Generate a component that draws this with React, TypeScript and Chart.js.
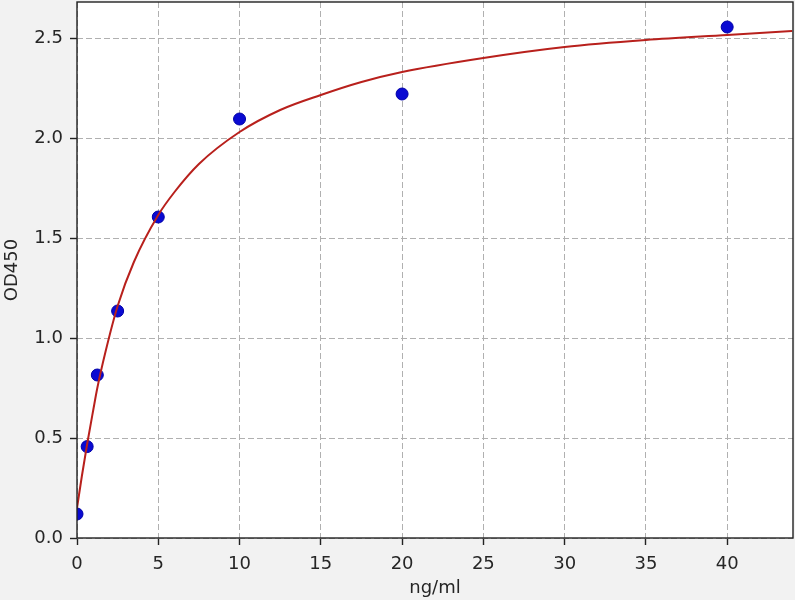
import React, { useEffect, useRef } from "react";
import { Chart, registerables } from "chart.js";

Chart.register(...registerables);

// Measured standards (ng/ml, OD450)
const concentrations = [0, 0.625, 1.25, 2.5, 5, 10, 20, 40];
const odValues = [0.12, 0.457, 0.815, 1.135, 1.605, 2.095, 2.22, 2.555];

// Fitted curve
const curveX = [0, 0.3, 0.625, 1, 1.25, 1.75, 2.5, 3.5, 5, 6, 7.5, 10, 12.5, 15, 17.5, 20, 25, 30, 35, 40, 44];
const curveY = [0.15, 0.31, 0.47, 0.64, 0.75, 0.93, 1.16, 1.38, 1.615, 1.73, 1.87, 2.03, 2.14, 2.215, 2.28, 2.33, 2.4, 2.455, 2.49, 2.515, 2.535];

const xTicks = [0, 5, 10, 15, 20, 25, 30, 35, 40];
const yTicks = [0, 0.5, 1.0, 1.5, 2.0, 2.5];
const xRange = [0, 44.05];
const yRange = [0, 2.68];
const xTitle = "ng/ml";
const yTitle = "OD450";

const FONT = "'DejaVu Sans', sans-serif";

export default function App() {
  const ref = useRef<HTMLCanvasElement | null>(null);

  useEffect(() => {
    if (!ref.current) return;
    const bgPlugin = {
      id: "bg",
      beforeDraw(chart: any) {
        const { ctx, chartArea: a, width, height } = chart;
        ctx.save();
        ctx.fillStyle = "#f2f2f2";
        ctx.fillRect(0, 0, width, height);
        ctx.fillStyle = "#ffffff";
        ctx.fillRect(795, 0, width - 795, height);
        ctx.fillRect(a.left, a.top, a.right - a.left, a.bottom - a.top);
        ctx.restore();
      },
      afterDraw(chart: any) {
        const { ctx, chartArea: a } = chart;
        ctx.save();
        ctx.strokeStyle = "#222222";
        ctx.lineWidth = 1.4;
        ctx.strokeRect(a.left, a.top, a.right - a.left, a.bottom - a.top);
        ctx.restore();
      },
    };

    const zeroPad = (s: any) => {
      s.paddingTop = 0;
      s.paddingBottom = 0;
      s.paddingLeft = 0;
      s.paddingRight = 0;
    };

    const chart = new Chart(ref.current, {
      type: "scatter",
      data: {
        datasets: [
          {
            type: "line",
            label: "fit",
            data: curveX.map((x, i) => ({ x, y: curveY[i] })),
            borderColor: "#b8201c",
            borderWidth: 2,
            pointRadius: 0,
            fill: false,
            cubicInterpolationMode: "monotone",
            order: 0,
          } as any,
          {
            label: "std",
            data: concentrations.map((x, i) => ({ x, y: odValues[i] })),
            backgroundColor: "#0a0ad2",
            borderColor: "#0000a8",
            borderWidth: 1,
            pointRadius: 6,
            order: 1,
            clip: 0,
          } as any,
        ],
      },
      options: {
        responsive: false,
        animation: false,
        devicePixelRatio: 1,
        layout: { autoPadding: false, padding: { top: 2, right: 7, left: 0, bottom: 0 } },
        plugins: { legend: { display: false }, tooltip: { enabled: false } },
        scales: {
          x: {
            type: "linear",
            min: xRange[0],
            max: xRange[1],
            afterBuildTicks: (s: any) => {
              s.ticks = xTicks.map((v) => ({ value: v }));
            },
            afterFit: (s: any) => {
              s.height = 62;
              zeroPad(s);
            },
            ticks: {
              font: { family: FONT, size: 18 },
              color: "#262626",
              padding: 9,
              maxRotation: 0,
              callback: (v: any) => String(v),
            },
            grid: {
              color: "#b0b0b0",
              lineWidth: 1,
              drawTicks: true,
              tickLength: 7,
              tickColor: "#222222",
              tickWidth: 1.4,
            },
            border: { display: false, dash: [6, 3] },
            title: {
              display: true,
              text: xTitle,
              font: { family: FONT, size: 18 },
              color: "#262626",
              padding: { top: 0, bottom: 1 },
            },
          },
          y: {
            type: "linear",
            min: yRange[0],
            max: yRange[1],
            afterBuildTicks: (s: any) => {
              s.ticks = yTicks.map((v) => ({ value: v }));
            },
            afterFit: (s: any) => {
              s.width = 77;
              zeroPad(s);
            },
            ticks: {
              font: { family: FONT, size: 18 },
              color: "#262626",
              padding: 7,
              callback: (v: any) => Number(v).toFixed(1),
            },
            grid: {
              color: "#b0b0b0",
              lineWidth: 1,
              drawTicks: true,
              tickLength: 7,
              tickColor: "#222222",
              tickWidth: 1.4,
            },
            border: { display: false, dash: [6, 3] },
            title: {
              display: true,
              text: yTitle,
              font: { family: FONT, size: 18 },
              color: "#262626",
              padding: { top: 2, bottom: 0 },
            },
          },
        },
      },
      plugins: [bgPlugin],
    });
    return () => chart.destroy();
  }, []);

  return (
    <div style={{ position: "fixed", left: 0, top: 0, width: 800, height: 600 }}>
      <canvas ref={ref} width={800} height={600} style={{ width: 800, height: 600, display: "block" }} />
    </div>
  );
}
